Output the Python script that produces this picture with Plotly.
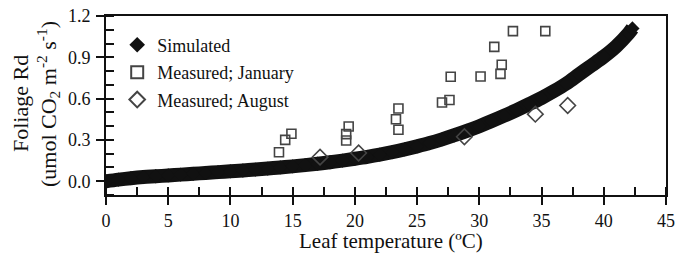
import plotly.graph_objects as go

# Simulated foliage Rd (read along the centre of the band)
sim_temp = [0, 1, 2, 3, 4, 5, 6, 7, 8, 9, 10, 11, 12, 13, 14, 15, 16, 17, 18, 19, 20,
            21, 22, 23, 24, 25, 26, 27, 28, 29, 30, 31, 32, 33, 34, 35, 36, 37, 38, 39,
            40, 41, 42, 42.3]
sim_rd = [0.0, 0.012, 0.022, 0.03, 0.036, 0.042, 0.048, 0.054, 0.06, 0.066, 0.072,
          0.078, 0.085, 0.092, 0.1, 0.108, 0.117, 0.127, 0.138, 0.15, 0.163,
          0.177, 0.193, 0.211, 0.231, 0.253, 0.277, 0.304, 0.334, 0.366, 0.4,
          0.437, 0.476, 0.517, 0.56, 0.605, 0.655, 0.71, 0.775, 0.84,
          0.905, 0.98, 1.075, 1.11]

# Measured, January
jan_temp = [13.9, 14.4, 14.9, 19.3, 19.3, 19.5, 23.3, 23.5, 23.5, 27.0, 27.6, 27.7,
            30.1, 31.2, 31.7, 31.8, 32.7, 35.3]
jan_rd = [0.21, 0.30, 0.345, 0.296, 0.342, 0.397, 0.45, 0.528, 0.374, 0.572, 0.59,
          0.759, 0.761, 0.976, 0.78, 0.846, 1.09, 1.09]

# Measured, August
aug_temp = [17.2, 20.3, 28.8, 34.5, 37.1]
aug_rd = [0.175, 0.205, 0.323, 0.487, 0.55]

x_ticks = [0, 5, 10, 15, 20, 25, 30, 35, 40, 45]
y_ticks = [0.0, 0.3, 0.6, 0.9, 1.2]
x_minor_top = [2.5, 7.5, 12.5, 17.5, 22.5, 27.5, 32.5, 37.5, 42.5]

FONT = "Liberation Serif, Times New Roman, serif"
INK = "#111111"

fig = go.Figure()

# thick band of simulated values
fig.add_trace(go.Scatter(
    x=sim_temp, y=sim_rd, mode="lines",
    line=dict(color=INK, width=14, shape="spline"),
    showlegend=False, hoverinfo="skip"))
fig.add_trace(go.Scatter(
    x=sim_temp, y=sim_rd, mode="markers", name="Simulated", legendgroup="a",
    marker=dict(symbol="diamond", size=11, color=INK)))
fig.add_trace(go.Scatter(
    x=jan_temp, y=jan_rd, mode="markers", name="Measured; January", legendgroup="b",
    marker=dict(symbol="square-open", size=9, color="#444444", line=dict(width=1.6))))
fig.add_trace(go.Scatter(
    x=aug_temp, y=aug_rd, mode="markers", name="Measured; August", legendgroup="c",
    marker=dict(symbol="diamond-open", size=12, color="#444444", line=dict(width=1.6))))

# page body has an 8px margin; plot area spans page x 106..666, y 16..195.5
fig.update_layout(
    width=677, height=245,
    margin=dict(l=98, r=19, t=8, b=58, autoexpand=False),
    paper_bgcolor="white", plot_bgcolor="white",
    font=dict(family=FONT, size=18, color=INK),
    showlegend=True,
    legend=dict(x=0.02, y=0.941, xanchor="left", yanchor="top",
                bgcolor="rgba(0,0,0,0)", font=dict(size=18, family=FONT),
                itemsizing="constant", traceorder="grouped", tracegroupgap=1),
    xaxis=dict(range=[0, 45], tickvals=x_ticks, ticks="outside", ticklen=8,
               tickwidth=2, tickcolor=INK, showline=True, linewidth=2,
               linecolor=INK, mirror=True, showgrid=False, zeroline=False,
               ticklabelstandoff=0, ticklabeloverflow="allow",
               minor=dict(dtick=2.5, tick0=0, ticks="inside", ticklen=8,
                          tickwidth=2, tickcolor=INK),
               tickfont=dict(size=18)),
    xaxis2=dict(range=[0, 45], overlaying="x", side="top", tickvals=x_minor_top,
                ticks="inside", ticklen=8, tickwidth=2, tickcolor=INK,
                showticklabels=False, showline=False, showgrid=False,
                zeroline=False),
    yaxis=dict(range=[-0.1, 1.2], tickvals=y_ticks, tickformat=".1f",
               ticks="outside", ticklen=8, tickwidth=2, tickcolor=INK,
               showline=True, linewidth=2, linecolor=INK, mirror=True,
               showgrid=False, zeroline=False, ticklabelstandoff=2,
               ticklabeloverflow="allow",
               minor=dict(dtick=0.1, tick0=0, ticks="inside", ticklen=8,
                          tickwidth=2, tickcolor=INK),
               tickfont=dict(size=18)),
)

# axis titles
fig.add_annotation(
    text="Leaf temperature (ºC)", xref="paper", yref="paper",
    x=0.509, y=-0.257, xanchor="center", yanchor="middle",
    showarrow=False, font=dict(size=21, family=FONT))
fig.add_annotation(
    text="Foliage Rd", xref="paper", yref="paper",
    x=-0.153, y=0.51, xanchor="center", yanchor="middle",
    textangle=-90, showarrow=False, font=dict(size=22, family=FONT))
fig.add_annotation(
    text="(umol CO<sub>2</sub> m<sup>-2</sup> s<sup>-1</sup>)",
    xref="paper", yref="paper", x=-0.103, y=0.51, xanchor="center", yanchor="middle",
    textangle=-90, showarrow=False, font=dict(size=22, family=FONT))

fig.write_html("out.html")
